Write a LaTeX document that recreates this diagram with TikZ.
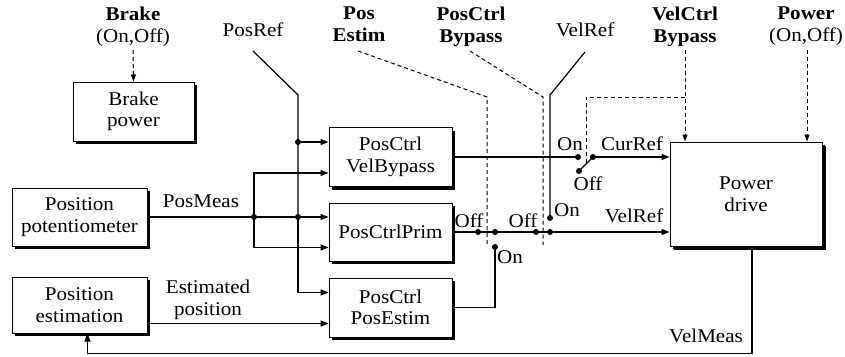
\documentclass[tikz,border=0pt]{standalone}
\usepackage{fontspec}
\setmainfont{Liberation Serif}[FakeStretch=1.08]
\usetikzlibrary{arrows.meta,shadows,calc}

\begin{document}
\begin{tikzpicture}[x=1pt,y=-1pt,
  font=\fontsize{19.5}{21.5}\selectfont,
  blk/.style={draw,line width=1pt,fill=white,align=center,inner sep=0pt,
    drop shadow={shadow xshift=3pt,shadow yshift=-3pt,fill=black,opacity=1}},
  bigblk/.style={blk,
    drop shadow={shadow xshift=4pt,shadow yshift=-4pt,fill=black,opacity=1}},
  lbl/.style={inner sep=0pt,align=center},
  wire/.style={line width=1.2pt},
  sig/.style={wire,-{Triangle[length=8pt,width=6pt]}},
  ctl/.style={line width=1pt,dash pattern=on 4pt off 3pt},
  ctlarr/.style={ctl,-{Triangle[length=7pt,width=5pt]}},
  dot/.style={circle,fill=black,inner sep=0pt,minimum size=6pt},
]
\useasboundingbox (0,0) rectangle (845,356);

% function blocks
\node[blk,minimum width=121pt,minimum height=59pt] (bp)   at (133.5,111.5) {Brake\\power};
\node[blk,minimum width=135pt,minimum height=58pt] (pp)   at (79.5,217)    {Position\\potentiometer};
\node[blk,minimum width=135pt,minimum height=56pt] (pe)   at (79.5,305)    {Position\\estimation};
\node[blk,minimum width=123pt,minimum height=59pt] (vb)   at (390.5,157)   {PosCtrl\\VelBypass};
\node[blk,minimum width=123pt,minimum height=58pt] (prim) at (390.5,232)   {PosCtrlPrim};
\node[blk,minimum width=123pt,minimum height=59pt] (pest) at (390.5,307.5) {PosCtrl\\PosEstim};
\node[bigblk,minimum width=152pt,minimum height=104pt] (pd) at (746,194)   {Power\\drive};

% command labels along the top
\node[lbl,anchor=north] (brakelbl) at (133,7) {\textbf{Brake}\\(On,Off)};
\node[lbl,anchor=base]  (posref)   at (253,36) {PosRef};
\node[lbl,anchor=north] (posest)   at (359,7) {\textbf{Pos}\\\textbf{Estim}};
\node[lbl,anchor=north] (pcb)      at (471,7) {\textbf{PosCtrl}\\\textbf{Bypass}};
\node[lbl,anchor=base]  (velref)   at (585,36) {VelRef};
\node[lbl,anchor=north] (vcb)      at (685,7) {\textbf{VelCtrl}\\\textbf{Bypass}};
\node[lbl,anchor=north] (pwr)      at (806,7) {\textbf{Power}\\(On,Off)};

% signal labels
\node[lbl,anchor=base]  (lposmeas) at (201,207) {PosMeas};
\node[lbl,anchor=north] (lestpos)  at (208,280) {Estimated\\position};
\node[lbl,anchor=base]  (lvelmeas) at (706,342) {VelMeas};
\node[lbl,anchor=base]  (lcurref)  at (632,150) {CurRef};
\node[lbl,anchor=base]  (lvelref)  at (634,222) {VelRef};
\node[lbl,anchor=base]  (ls3on)    at (570,150) {On};
\node[lbl,anchor=base]  (ls3off)   at (588,190) {Off};
\node[lbl,anchor=base]  (ls1off)   at (469,227) {Off};
\node[lbl,anchor=base]  (ls2off)   at (523,227) {Off};
\node[lbl,anchor=base]  (ls2on)    at (567,216) {On};
\node[lbl,anchor=base]  (ls1on)    at (510,263) {On};

% junctions and switch contacts
\node[dot] (j1)    at (298,142) {};
\node[dot] (j2)    at (298,217) {};
\node[dot] (pm)    at (254,217) {};
\node[dot] (s1off) at (478,232) {};
\node[dot] (s1c)   at (495,232) {};
\node[dot] (s1on)  at (495,247) {};
\node[dot] (s2off) at (536,232) {};
\node[dot] (s2c)   at (550,232) {};
\node[dot] (s2on)  at (550,218) {};
\node[dot] (s3on)  at (578,157) {};
\node[dot] (s3c)   at (593,157) {};
\node[dot] (s3off) at (579,171) {};

% free ends and bends of the reference lines
\coordinate (prtop)  at (253,51);
\coordinate (prbend) at (298,95);
\coordinate (vrtop)  at (585,52);
\coordinate (vrbend) at (550,95);
\coordinate (petop)  at (358,51);
\coordinate (pebend) at (487,97);
\coordinate (peend)  at (487,247);
\coordinate (pbtop)  at (470,51);
\coordinate (pbbend) at (543,97);
\coordinate (pbend)  at (543,245);
\coordinate (vctop)  at (685,50);
\coordinate (vcbr)   at (685,97);
\coordinate (vcend)  at (586,165);
\coordinate (pwtop)  at (807,50);
\coordinate (brtop)  at (133,50);

% position reference
\draw[wire] (prtop) -- (prbend) -- (j1.center) -- (j2.center);
\draw[sig] (j1.center) -- (j1.center -| vb.west);
\draw[sig] (j2.center) |- ($(pest.north west)+(0,15)$);

% measured position
\draw[wire] (pp.east) -- (pm.center) -- (j2.center);
\draw[sig] (j2.center) -- (j2.center -| prim.west);
\draw[sig] (pm.center) |- ($(vb.south west)+(0,-14)$);
\draw[sig] (pm.center) |- ($(prim.south west)+(0,-14)$);

% estimated position
\draw[sig] ($(pe.south east)+(0,-10)$) -- ($(pest.south west)+(0,-14)$);

% velocity measurement feedback
\draw[sig] ($(pd.south)+(6,0)$) -- ++(0,107) -| ($(pe.south)+(8,0)$);

% PosEstim and PosCtrl bypass switches
\draw[wire] (prim.east) -- (s1off.center) -- (s1c.center) -- (s2off.center) -- (s2c.center);
\draw[sig] (s2c.center) -- (s2c.center -| pd.west);
\draw[wire] (s1on.center) |- (pest.east);
\draw[wire] (vrtop) -- (vrbend) -- (s2on.center);

% velocity controller bypass switch
\draw[wire] (vb.east) -- (s3on.center);
\draw[wire] (s3off.center) -- (s3c.center);
\draw[sig] (s3c.center) -- (s3c.center -| pd.west);

% mode commands
\draw[ctl] (petop) -- (pebend) -- (peend);
\draw[ctl] (pbtop) -- (pbbend) -- (pbend);
\draw[ctlarr] (vctop) -- (vctop |- pd.north);
\draw[ctl] (vcbr) -| (vcend);
\draw[ctlarr] (pwtop) -- (pwtop |- pd.north);
\draw[ctlarr] (brtop) -- (bp.north);
\end{tikzpicture}
\end{document}
